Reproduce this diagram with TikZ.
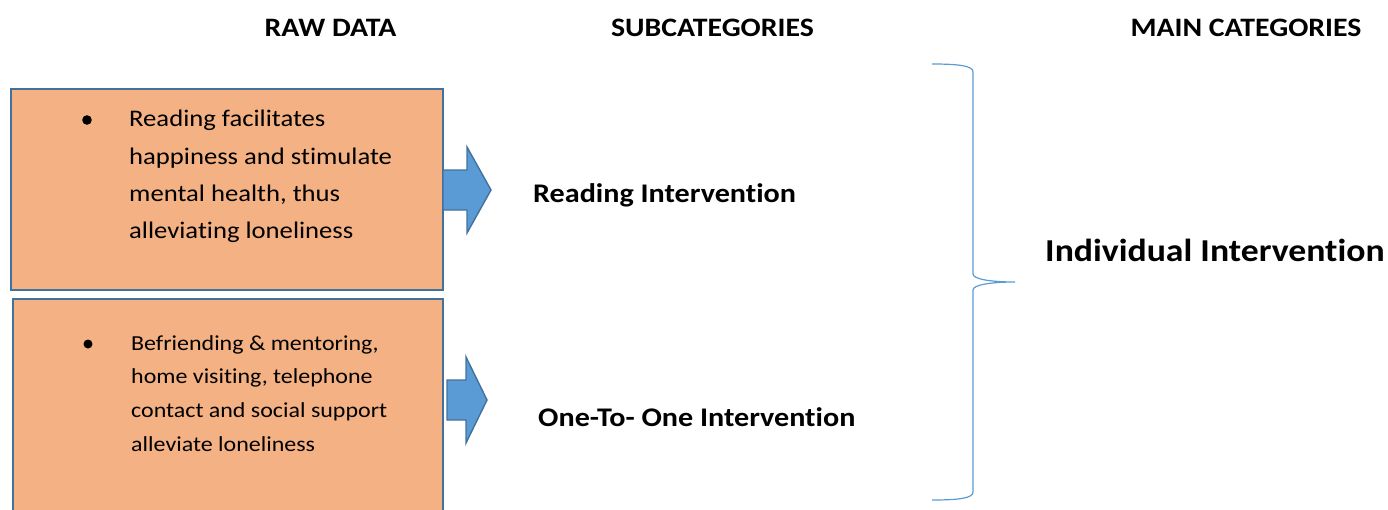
\documentclass[tikz,border=0pt]{standalone}
\usepackage{fontspec}
\setmainfont{Carlito}[FakeStretch=1.12,Ligatures=NoCommon]
\definecolor{boxfill}{HTML}{F4B183}
\definecolor{boxline}{HTML}{41719C}
\definecolor{arrfill}{HTML}{5B9BD5}
\definecolor{bracecol}{HTML}{5B9BD5}
\begin{document}
\begin{tikzpicture}[x=1pt,y=-1pt,
  rawbox/.style={draw=boxline,line width=1.8pt,fill=boxfill},
  blockarrow/.style={draw=boxline,line width=1.4pt,fill=arrfill,line join=miter},
  heading/.style={font=\fontsize{26.6}{30}\selectfont\bfseries,anchor=base,inner sep=0pt},
  subcat/.style={font=\fontsize{26.9}{30}\selectfont\bfseries,anchor=base west,inner sep=0pt},
  bodytxt/.style={anchor=base west,align=left,inner sep=0pt}]
\useasboundingbox (0,0) rectangle (1388,509);
% headings
\node[heading] (h1) at (330.5,36.5) {RAW DATA};
\node[heading] (h2) at (712.5,36.5) {SUBCATEGORIES};
\node[heading] (h3) at (1246,36.5) {MAIN CATEGORIES};
% boxes
\draw[rawbox] (11,89) rectangle (443,290);
\coordinate (b1) at (443,190);
\draw[rawbox] (13,299) rectangle (443,520);
\coordinate (b2) at (447,400);
% bullets
\fill (87,120) circle (4.8);
\fill (88,344) circle (4.5);
\node[bodytxt,font=\fontsize{23.8}{37.3}\selectfont] (t1) at (129,238.6)
  {Reading facilitates\\happiness and stimulate\\mental health, thus\\alleviating loneliness};
\node[bodytxt,font=\fontsize{21.4}{33.8}\selectfont] (t2) at (131,451.4)
  {Befriending \& mentoring,\\home visiting, telephone\\contact and social support\\alleviate loneliness};
% block arrows
\draw[blockarrow] (b1) ++(0,-20) -- ++(24,0) -- ++(0,-23) -- ++(24,43) -- ++(-24,43) -- ++(0,-23) -- ++(-24,0) -- cycle;
\draw[blockarrow] (b2) ++(0,-20) -- ++(19,0) -- ++(0,-23) -- ++(21,43) -- ++(-21,43) -- ++(0,-23) -- ++(-19,0) -- cycle;
% subcategories
\node[subcat] (s1) at (533,202.5) {Reading Intervention};
\node[subcat] (s2) at (538,426.5) {One-To- One Intervention};
% brace
\draw[bracecol,line width=1.2pt] (932,64) .. controls (960,64) and (973,66) .. (973,72)
  -- (973,274) .. controls (973,279) and (990,282) .. (1015,282)
  .. controls (990,282) and (973,285) .. (973,290)
  -- (973,492) .. controls (973,498) and (960,500) .. (932,500);
\coordinate (tip) at (1015,282);
\node[font=\fontsize{31.9}{36}\selectfont\bfseries,anchor=base west,inner sep=0pt] (m1) at (1045,261.5) {Individual Intervention};
\end{tikzpicture}
\end{document}
